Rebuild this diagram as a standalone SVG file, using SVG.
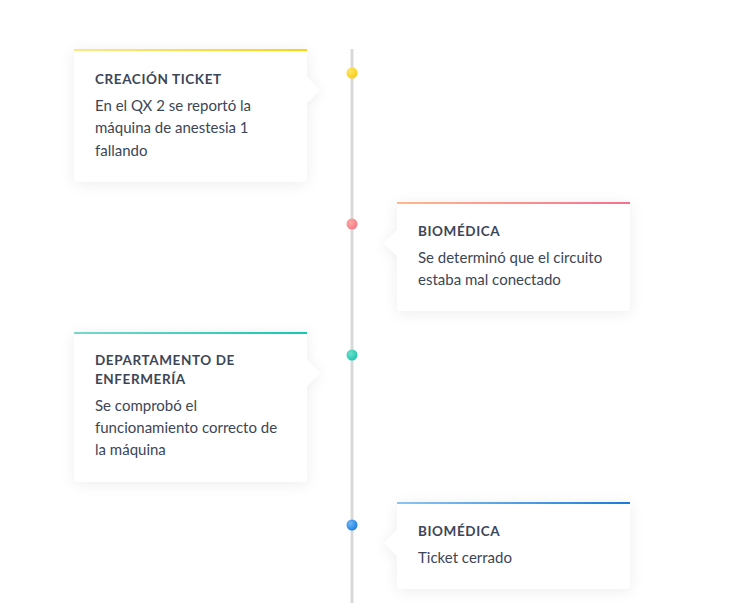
<svg xmlns="http://www.w3.org/2000/svg" width="736" height="603" viewBox="0 0 736 603">
<defs>
<filter id="sh" x="-20%" y="-20%" width="140%" height="150%">
<feDropShadow dx="0" dy="2" stdDeviation="7" flood-color="#000" flood-opacity="0.07"/>
</filter>
<linearGradient id="g1" x1="0" x2="1" y1="0" y2="0"><stop offset="0" stop-color="#fde68a"/><stop offset="1" stop-color="#fdd40a"/></linearGradient>
<linearGradient id="g2" x1="0" x2="1" y1="0" y2="0"><stop offset="0" stop-color="#fdb98b"/><stop offset="1" stop-color="#f6708f"/></linearGradient>
<linearGradient id="g3" x1="0" x2="1" y1="0" y2="0"><stop offset="0" stop-color="#7ad7c8"/><stop offset="1" stop-color="#14c8b1"/></linearGradient>
<linearGradient id="g4" x1="0" x2="1" y1="0" y2="0"><stop offset="0" stop-color="#8ec4f4"/><stop offset="1" stop-color="#1a7ad8"/></linearGradient>
<radialGradient id="d1" cx="0.35" cy="0.35" r="0.7"><stop offset="0" stop-color="#fde76a"/><stop offset="1" stop-color="#f9cd12"/></radialGradient>
<radialGradient id="d2" cx="0.35" cy="0.35" r="0.7"><stop offset="0" stop-color="#ffa8a0"/><stop offset="1" stop-color="#f47a8a"/></radialGradient>
<radialGradient id="d3" cx="0.35" cy="0.35" r="0.7"><stop offset="0" stop-color="#6ee0cc"/><stop offset="1" stop-color="#20c4ae"/></radialGradient>
<radialGradient id="d4" cx="0.35" cy="0.35" r="0.7"><stop offset="0" stop-color="#6fb8f5"/><stop offset="1" stop-color="#1d7ee0"/></radialGradient>
</defs>
<style>
.card{fill:#fff}
.t{font-family:"Lato","Noto Sans",sans-serif;font-weight:bold;font-size:13.5px;fill:#3c4656;letter-spacing:0.6px}
.b{font-family:"Lato","Noto Sans",sans-serif;font-size:15px;fill:#3c4656}
</style>
<rect width="736" height="603" fill="#fff"/>
<g id="connectors">
<line x1="352" y1="49" x2="352" y2="603" stroke="#d9d9d9" stroke-width="3"/>
</g>
<g id="node1">
<path class="card" filter="url(#sh)" d="M74 49 H307 V77 L320 90 L307 103 V178 Q307 182 303 182 H78 Q74 182 74 178 Z"/>
<rect x="74" y="49" width="233" height="2" fill="url(#g1)"/>
<circle cx="352" cy="73" r="5.5" fill="url(#d1)"/>
<text class="t" x="95" y="84">CREACIÓN TICKET</text>
<text class="b" x="95" y="111">En el QX 2 se reportó la</text>
<text class="b" x="95" y="133">máquina de anestesia 1</text>
<text class="b" x="95" y="156">fallando</text>
</g>
<g id="node2">
<path class="card" filter="url(#sh)" d="M397 202 H630 V307 Q630 311 626 311 H401 Q397 311 397 307 V256 L384 243 L397 230 Z"/>
<rect x="397" y="202" width="233" height="2" fill="url(#g2)"/>
<circle cx="352" cy="224" r="5.5" fill="url(#d2)"/>
<text class="t" x="418" y="236">BIOMÉDICA</text>
<text class="b" x="418" y="263">Se determinó que el circuito</text>
<text class="b" x="418" y="285">estaba mal conectado</text>
</g>
<g id="node3">
<path class="card" filter="url(#sh)" d="M74 332 H307 V360 L320 373 L307 386 V478 Q307 482 303 482 H78 Q74 482 74 478 Z"/>
<rect x="74" y="332" width="233" height="2" fill="url(#g3)"/>
<circle cx="352" cy="355" r="5.5" fill="url(#d3)"/>
<text class="t" x="95" y="365">DEPARTAMENTO DE</text>
<text class="t" x="95" y="384">ENFERMERÍA</text>
<text class="b" x="95" y="411">Se comprobó el</text>
<text class="b" x="95" y="433">funcionamiento correcto de</text>
<text class="b" x="95" y="455">la máquina</text>
</g>
<g id="node4">
<path class="card" filter="url(#sh)" d="M397 502 H630 V585 Q630 589 626 589 H401 Q397 589 397 585 V556 L384 543 L397 530 Z"/>
<rect x="397" y="502" width="233" height="2" fill="url(#g4)"/>
<circle cx="352" cy="525" r="5.5" fill="url(#d4)"/>
<text class="t" x="418" y="536">BIOMÉDICA</text>
<text class="b" x="418" y="563">Ticket cerrado</text>
</g>
</svg>
